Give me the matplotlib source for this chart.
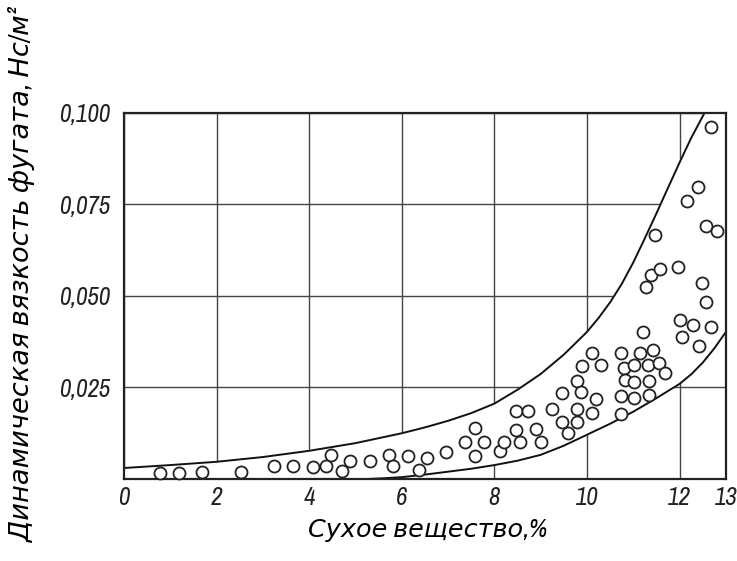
import numpy as np
import matplotlib
matplotlib.use('Agg')
import matplotlib.pyplot as plt
from matplotlib import font_manager

# dry matter content, %  /  dynamic viscosity of the centrate, Ns/m2
x_pts = [0.78, 1.19, 1.68, 2.52, 3.24, 3.64, 4.08, 4.36, 4.47, 4.70,
         4.89, 5.31, 5.72, 5.80, 6.13, 6.36, 6.54, 6.95, 7.36, 7.57,
         7.59, 7.77, 8.11, 8.20, 8.46, 8.46, 8.55, 8.72, 8.89, 9.01,
         9.24, 9.46, 9.46, 9.59, 9.78, 9.78, 9.78, 9.86, 9.90, 10.11,
         10.11, 10.20, 10.31, 10.73, 10.74, 10.74, 10.79, 10.81, 11.02, 11.02,
         11.02, 11.15, 11.20, 11.31, 11.33, 11.33, 11.42, 11.56, 11.69, 12.00,
         12.05, 12.28, 12.41, 12.56, 12.68, 11.28, 11.39, 11.46, 11.58, 11.97,
         12.15, 12.39, 12.49, 12.56, 12.68, 12.80]
y_pts = [0.0016, 0.0016, 0.0019, 0.0019, 0.0036, 0.0036, 0.0033, 0.0036, 0.0066, 0.0022,
         0.0049, 0.0049, 0.0066, 0.0036, 0.0063, 0.0025, 0.0058, 0.0074, 0.0102, 0.0139,
         0.0063, 0.0102, 0.0077, 0.0102, 0.0186, 0.0134, 0.0102, 0.0187, 0.0136, 0.0102,
         0.0191, 0.0236, 0.0157, 0.0126, 0.0269, 0.0191, 0.0155, 0.0237, 0.0310, 0.0179,
         0.0343, 0.0219, 0.0311, 0.0177, 0.0343, 0.0228, 0.0302, 0.0270, 0.0311, 0.0266,
         0.0220, 0.0343, 0.0402, 0.0311, 0.0268, 0.0229, 0.0352, 0.0318, 0.0289, 0.0434,
         0.0387, 0.0421, 0.0363, 0.0484, 0.0414, 0.0524, 0.0557, 0.0667, 0.0574, 0.0580,
         0.0760, 0.0797, 0.0536, 0.0691, 0.0962, 0.0678]

# envelope curves
upper_x = [0, 1, 2, 3, 4, 5, 6, 6.5, 7, 7.5, 8, 8.5, 9, 9.5, 10, 10.25, 10.5,
           10.75, 11, 11.25, 11.5, 11.75, 12, 12.25, 12.55]
upper_y = [0.0030, 0.0038, 0.0047, 0.0060, 0.0077, 0.0098, 0.0125, 0.0141, 0.0159,
           0.0180, 0.0206, 0.0244, 0.0287, 0.0340, 0.0402, 0.0440, 0.0483, 0.0533,
           0.0592, 0.0658, 0.0726, 0.0796, 0.0865, 0.0932, 0.1003]
lower_x = [5.27, 5.6, 6.0, 6.5, 7, 7.5, 8, 8.5, 9, 9.5, 10, 10.5, 11, 11.5, 12,
           12.25, 12.5, 12.75, 13]
lower_y = [0.0, 0.0002, 0.0005, 0.0012, 0.0020, 0.0028, 0.0038, 0.0050, 0.0066,
           0.0091, 0.0121, 0.0151, 0.0184, 0.0221, 0.0260, 0.0286, 0.0318, 0.0357,
           0.0402]

x_ticks = [0, 2, 4, 6, 8, 10, 12, 13]
x_labels = ['0', '2', '4', '6', '8', '10', '12', '13']
y_ticks = [0.025, 0.050, 0.075, 0.100]
y_labels = ['0,025', '0,050', '0,075', '0,100']

# prefer a narrow face if one is installed
fam, stretch = 'Roboto', 'normal'
for f in font_manager.fontManager.ttflist:
    st = str(f.stretch)
    if 'Narrow' in f.name or 'Condensed' in f.name:
        fam, stretch = f.name, 'normal'
        break
    if st in ('condensed', 'semi-condensed', 'extra-condensed') and f.name in ('DejaVu Sans', 'Noto Sans', 'Open Sans'):
        fam, stretch = f.name, st
plt.rcParams['font.family'] = [fam, 'DejaVu Sans']
plt.rcParams['font.stretch'] = stretch
plt.rcParams['font.style'] = 'italic'

fig = plt.figure(figsize=(7.37, 5.61), dpi=100)
ax = fig.add_axes([0.1683, 0.1462, 0.8167, 0.6524])

ax.set_xlim(0, 13)
ax.set_ylim(0, 0.1)

ax.set_xticks(x_ticks)
ax.set_xticklabels(x_labels, fontsize=18)
ax.set_yticks(y_ticks)
ax.set_yticklabels(y_labels, fontsize=18)
ax.tick_params(axis='x', length=0, pad=5, colors='#222222')
ax.tick_params(axis='y', length=0, pad=10, colors='#222222')
ax.grid(True, color='#444444', linewidth=1.0, zorder=0)
ax.set_axisbelow(True)
for s in ax.spines.values():
    s.set_linewidth(1.6)
    s.set_color('#222222')

# blank out the grid inside the band between the two curves
band_x = list(upper_x) + [13] + lower_x[::-1] + [0]
band_y = list(upper_y) + [0.1005] + lower_y[::-1] + [0]
ax.fill(band_x, band_y, color='white', zorder=1)

ax.plot(upper_x, upper_y, color='#111111', linewidth=1.4, zorder=2)
ax.plot(lower_x, lower_y, color='#111111', linewidth=1.4, zorder=2)

ax.scatter(x_pts, y_pts, s=75, facecolors='white', edgecolors='#222222',
           linewidths=1.3, zorder=3, clip_on=False)

xl = fig.text(0.58, 0.055, 'Сухое вещество,%', fontsize=23, ha='center', va='center')
yl = fig.text(0.03, 0.51, 'Динамическая вязкость фугата, Нс/м²', fontsize=23,
              rotation=90, ha='center', va='center')

# size the two axis titles to their target lengths in pixels
r = fig.canvas.get_renderer()
for t, target, horiz in ((xl, 240, True), (yl, 535, False)):
    bb = t.get_window_extent(r)
    cur = bb.width if horiz else bb.height
    t.set_fontsize(t.get_fontsize() * target / cur)

fig.savefig('out.png', dpi=100)
